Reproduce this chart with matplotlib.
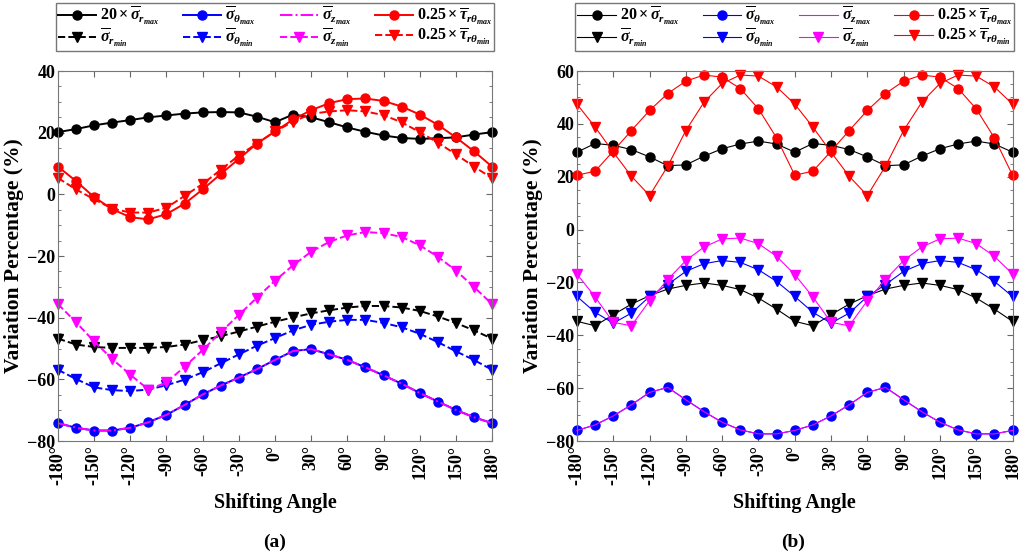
import numpy as np
import matplotlib
matplotlib.use("Agg")
import matplotlib.pyplot as plt
from matplotlib.ticker import MultipleLocator

plt.rcParams['font.family'] = 'Liberation Serif'
plt.rcParams['font.weight'] = 'bold'
plt.rcParams['mathtext.fontset'] = 'custom'
plt.rcParams['mathtext.rm'] = 'Liberation Serif:bold'
plt.rcParams['mathtext.it'] = 'Liberation Serif:italic:bold'
plt.rcParams['mathtext.bf'] = 'Liberation Serif:bold'

angle = np.arange(-180, 181, 15)

# (a) variation percentages
r_max_a = [20.2, 21.2, 22.4, 23.3, 24.1, 25.0, 25.6, 26.2, 26.6, 26.7, 26.6, 25.2, 23.4,
           25.9, 25.0, 23.4, 21.7, 20.3, 19.1, 18.3, 18.0, 18.2, 18.5, 19.4, 20.2]
r_min_a = [-46.8, -48.7, -49.5, -49.8, -49.8, -49.8, -49.5, -48.7, -47.3, -46.0, -44.5, -42.9, -41.3,
           -39.9, -38.6, -37.6, -36.7, -36.2, -36.2, -36.7, -37.8, -39.6, -41.7, -44.1, -46.8]
th_max_a = [-74.2, -75.7, -76.6, -76.6, -75.7, -73.9, -71.5, -68.3, -64.9, -62.0, -59.4, -56.7, -53.7,
            -50.8, -50.2, -51.9, -53.7, -56.1, -58.7, -61.4, -64.4, -67.2, -69.9, -72.3, -74.2]
th_min_a = [-56.9, -59.9, -62.6, -63.5, -63.8, -63.3, -61.9, -60.1, -57.7, -54.8, -51.9, -49.1, -46.6,
            -44.1, -42.3, -41.3, -40.7, -40.7, -41.7, -43.1, -45.2, -47.9, -50.9, -53.7, -56.9]
z_max_a = [-74.2, -75.7, -76.6, -76.6, -75.7, -73.9, -71.5, -68.3, -64.9, -62.0, -59.4, -56.7, -53.7,
           -50.8, -50.2, -51.9, -53.7, -56.1, -58.7, -61.4, -64.4, -67.2, -69.9, -72.3, -74.2]
z_min_a = [-35.6, -41.5, -47.7, -53.4, -58.5, -63.3, -61.0, -55.9, -50.5, -44.7, -39.1, -33.5, -28.0,
           -23.0, -18.6, -15.4, -13.3, -12.2, -12.6, -13.8, -16.5, -20.2, -24.7, -30.0, -35.6]
tau_max_a = [9.0, 4.3, -0.9, -4.8, -7.4, -8.1, -6.4, -3.0, 1.6, 6.6, 11.5, 16.5, 20.4,
             24.3, 27.3, 29.6, 30.9, 31.1, 30.3, 28.5, 25.9, 22.6, 18.5, 14.0, 9.0]
tau_min_a = [5.3, 1.6, -1.6, -4.6, -5.9, -5.9, -4.3, -0.5, 3.4, 8.0, 12.6, 16.5, 20.4,
             23.6, 26.1, 26.9, 27.3, 26.9, 25.7, 23.4, 20.2, 16.8, 13.0, 9.0, 5.3]

# (b) variation percentages
r_max_b = [29.3, 32.6, 31.9, 30.3, 27.5, 24.2, 24.5, 27.8, 30.6, 32.4, 33.5, 32.4, 29.3,
           32.6, 31.9, 30.3, 27.5, 24.2, 24.5, 27.8, 30.6, 32.4, 33.5, 32.4, 29.3]
r_min_b = [-34.7, -36.4, -32.2, -28.2, -25.0, -22.5, -21.1, -20.2, -21.1, -22.7, -25.9, -30.1, -34.7,
           -36.4, -32.2, -28.2, -25.0, -22.5, -21.1, -20.2, -21.1, -22.7, -25.9, -30.1, -34.7]
th_max_b = [-76.0, -73.9, -70.5, -66.3, -61.6, -59.7, -64.4, -68.9, -72.9, -75.8, -77.3, -77.3, -76.0,
            -73.9, -70.5, -66.3, -61.6, -59.7, -64.4, -68.9, -72.9, -75.8, -77.3, -77.3, -76.0]
th_min_b = [-25.3, -31.3, -35.4, -31.6, -25.3, -20.8, -15.8, -12.9, -11.7, -12.4, -15.2, -19.6, -25.3,
            -31.3, -35.4, -31.6, -25.3, -20.8, -15.8, -12.9, -11.7, -12.4, -15.2, -19.6, -25.3]
z_max_b = [-76.0, -73.9, -70.5, -66.3, -61.6, -59.7, -64.4, -68.9, -72.9, -75.8, -77.3, -77.3, -76.0,
           -73.9, -70.5, -66.3, -61.6, -59.7, -64.4, -68.9, -72.9, -75.8, -77.3, -77.3, -76.0]
z_min_b = [-16.8, -25.5, -35.1, -36.4, -26.9, -18.9, -11.7, -6.6, -3.5, -3.2, -5.3, -10.1, -17.0,
           -25.5, -35.1, -36.4, -26.9, -18.9, -11.7, -6.6, -3.5, -3.2, -5.3, -10.1, -16.8]
tau_max_b = [20.6, 22.1, 29.7, 37.5, 45.1, 51.5, 56.2, 58.5, 57.7, 53.4, 45.7, 34.7, 20.6,
             22.1, 29.7, 37.5, 45.1, 51.5, 56.2, 58.5, 57.7, 53.4, 45.7, 34.7, 20.6]
tau_min_b = [47.5, 38.8, 29.3, 20.2, 12.9, 24.0, 37.5, 48.2, 55.3, 58.5, 58.1, 54.0, 47.5,
             38.8, 29.3, 20.2, 12.9, 24.0, 37.5, 48.2, 55.3, 58.5, 58.1, 54.0, 47.5]

labels = [r'$20\times\overline{\sigma}_{r_{max}}$', r'$\overline{\sigma}_{r_{min}}$',
          r'$\overline{\sigma}_{\theta_{max}}$', r'$\overline{\sigma}_{\theta_{min}}$',
          r'$\overline{\sigma}_{z_{max}}$', r'$\overline{\sigma}_{z_{min}}$',
          r'$0.25\times\overline{\tau}_{r\theta_{max}}$', r'$0.25\times\overline{\tau}_{r\theta_{min}}$']
colors = ['black', 'black', 'blue', 'blue', 'magenta', 'magenta', 'red', 'red']

fig = plt.figure(figsize=(10.21, 5.53), dpi=100)
axa = fig.add_axes([0.0568, 0.2025, 0.4251, 0.669])
axb = fig.add_axes([0.5651, 0.2025, 0.4266, 0.669])


def style_axes(ax, ylim, ymajor):
    ax.set_xlim(-180, 180)
    ax.set_ylim(*ylim)
    ax.set_xticks(np.arange(-180, 181, 30))
    ax.set_xticklabels(['%d°' % v for v in range(-180, 181, 30)], rotation=90, fontsize=13)
    ax.yaxis.set_major_locator(MultipleLocator(ymajor))
    ax.yaxis.set_minor_locator(MultipleLocator(5))
    ax.tick_params(axis='y', labelsize=13, pad=2)
    ax.tick_params(axis='x', pad=3)
    ax.tick_params(which='both', direction='in', top=True, right=True, color='#666666')
    ax.tick_params(which='major', length=4)
    ax.tick_params(which='minor', length=2)
    for s in ax.spines.values():
        s.set_color('#777777')
    ax.set_xlabel('Shifting Angle', fontsize=14.5, fontweight='bold', labelpad=6)
    ax.set_ylabel('Variation Percentage (%)', fontsize=15.5, fontweight='bold', labelpad=2)


# (a): solid maxima, dashed minima
series_a = [r_max_a, r_min_a, th_max_a, th_min_a, z_max_a, z_min_a, tau_max_a, tau_min_a]
styles_a = ['-', '--', '-', '--', '-.', '--', '-', '--']
markers = ['o', 'v', 'o', 'v', None, 'v', 'o', 'v']
for ys, c, ls, m, lab in zip(series_a, colors, styles_a, markers, labels):
    axa.plot(angle, ys, color=c, ls=ls, marker=m, ms=6.5, lw=1.4, label=lab, clip_on=False)
style_axes(axa, (-80, 40), 20)

# (b): thin solid lines
series_b = [r_max_b, r_min_b, th_max_b, th_min_b, z_max_b, z_min_b, tau_max_b, tau_min_b]
for ys, c, m, lab in zip(series_b, colors, markers, labels):
    axb.plot(angle, ys, color=c, ls='-', marker=m, ms=6.5, lw=0.8, label=lab, clip_on=False)
style_axes(axb, (-80, 60), 20)

for ax in (axa, axb):
    leg = ax.legend(ncol=4, loc='lower center', bbox_to_anchor=(0.5, 1.055),
                    borderaxespad=0, fontsize=11.5, handlelength=2.4, handletextpad=0.25,
                    columnspacing=1.5, labelspacing=0.0, borderpad=0.12,
                    fancybox=False, edgecolor='#777777', framealpha=1)
    leg.get_frame().set_linewidth(1.0)

fig.text(0.2693, 0.02, '(a)', ha='center', va='center', fontsize=14, fontweight='bold')
fig.text(0.7767, 0.02, '(b)', ha='center', va='center', fontsize=14, fontweight='bold')

fig.savefig('out.png', dpi=100)
